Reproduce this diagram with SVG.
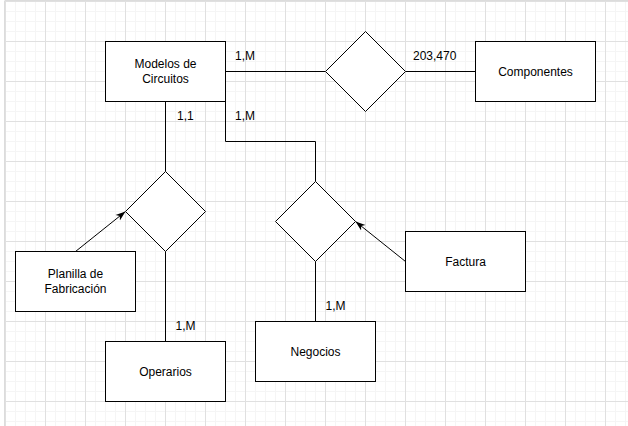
<svg xmlns="http://www.w3.org/2000/svg" width="628" height="426" viewBox="0 0 628 426">
  <defs>
    <pattern id="grid" patternUnits="userSpaceOnUse" x="5" y="1" width="40" height="40">
      <path d="M10.5,0V40M20.5,0V40M30.5,0V40M0,10.5H40M0,20.5H40M0,30.5H40" stroke="#f5f5f5" stroke-width="1" fill="none"/>
      <path d="M0.5,0V40M0,0.5H40" stroke="#e0e0e0" stroke-width="1" fill="none"/>
    </pattern>
    <marker id="arrow" markerUnits="userSpaceOnUse" markerWidth="10" markerHeight="8" viewBox="0 0 10 8" refX="10" refY="4" orient="auto">
      <path d="M0,0.5 L10,4 L0,7.5 L2.8,4 Z" fill="#000"/>
    </marker>
  </defs>
  <style>
    .box { fill: #fff; stroke: #000; stroke-width: 1; }
    .rel { fill: #fff; stroke: #000; stroke-width: 1; }
    .edge { fill: none; stroke: #000; stroke-width: 1; }
    text { font-family: "Liberation Sans", Arial, sans-serif; font-size: 12px; fill: #000; }
    .c { text-anchor: middle; }
  </style>
  <rect x="0" y="0" width="628" height="426" fill="#fff"/>
  <rect x="5" y="1" width="623" height="425" fill="url(#grid)"/>
  <path d="M4.5,1V426M4.5,0.5H628" stroke="#dcdcdc" stroke-width="1" fill="none"/>

  <g id="connectors">
    <path class="edge" d="M225.5,71.5H325.5"/>
    <path class="edge" d="M405.5,71.5H475.5"/>
    <path class="edge" d="M165.5,101.5V171.5"/>
    <path class="edge" d="M225.5,101.5V141.5H315.5V181.5"/>
    <path class="edge" d="M165.5,251.5V341.5"/>
    <path class="edge" d="M315.5,261.5V321.5"/>
    <path class="edge" d="M75.5,251.5L125.5,211.5" marker-end="url(#arrow)"/>
    <path class="edge" d="M405.5,261.5L355.5,221.5" marker-end="url(#arrow)"/>
    <text x="235" y="60">1,M</text>
    <text x="413" y="60">203,470</text>
    <text x="177" y="120">1,1</text>
    <text x="235" y="120">1,M</text>
    <text x="175.5" y="330">1,M</text>
    <text x="325.5" y="310">1,M</text>
  </g>

  <g id="modelos">
    <rect class="box" x="105.5" y="41.5" width="120" height="60"/>
    <text class="c" x="165.5" y="67.5">Modelos de</text>
    <text class="c" x="165.5" y="83">Circuitos</text>
  </g>
  <g id="rel-componentes">
    <path class="rel" d="M365.5,31.5L405.5,71.5L365.5,111.5L325.5,71.5Z"/>
  </g>
  <g id="componentes">
    <rect class="box" x="475.5" y="41.5" width="120" height="60"/>
    <text class="c" x="535.5" y="75.5">Componentes</text>
  </g>
  <g id="rel-operarios">
    <path class="rel" d="M165.5,171.5L205.5,211.5L165.5,251.5L125.5,211.5Z"/>
  </g>
  <g id="rel-negocios">
    <path class="rel" d="M315.5,181.5L355.5,221.5L315.5,261.5L275.5,221.5Z"/>
  </g>
  <g id="planilla">
    <rect class="box" x="15.5" y="251.5" width="120" height="60"/>
    <text class="c" x="75.5" y="277.5">Planilla de</text>
    <text class="c" x="75.5" y="293">Fabricación</text>
  </g>
  <g id="operarios">
    <rect class="box" x="105.5" y="341.5" width="120" height="60"/>
    <text class="c" x="165.5" y="375.5">Operarios</text>
  </g>
  <g id="negocios">
    <rect class="box" x="255.5" y="321.5" width="120" height="60"/>
    <text class="c" x="315.5" y="355.5">Negocios</text>
  </g>
  <g id="factura">
    <rect class="box" x="405.5" y="231.5" width="120" height="60"/>
    <text class="c" x="465.5" y="265.5">Factura</text>
  </g>
</svg>
